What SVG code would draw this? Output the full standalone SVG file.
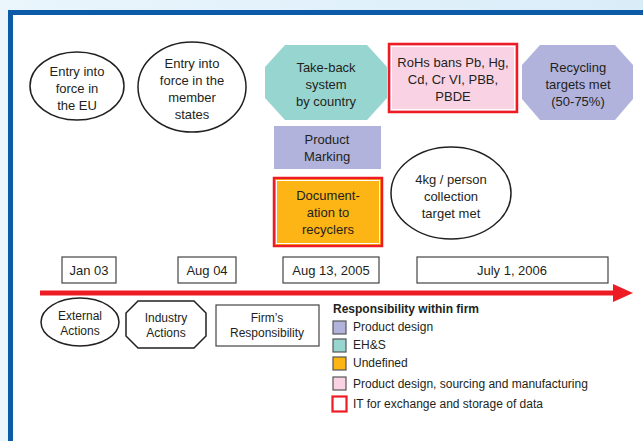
<svg xmlns="http://www.w3.org/2000/svg" width="643" height="441" viewBox="0 0 643 441">
<defs>
<linearGradient id="bg" x1="0" y1="0" x2="1" y2="0">
<stop offset="0" stop-color="#eaf5fc"/>
<stop offset="1" stop-color="#d9edf9"/>
</linearGradient>
</defs>
<style>
text{font-family:"Liberation Sans",Arial,sans-serif;font-size:13px;fill:#231f20;text-anchor:middle}
.ol{fill:#fff;stroke:#231f20;stroke-width:1.5}
.box{fill:#fff;stroke:#444;stroke-width:1.2}
.teal{fill:#97d5d0}
.lav{fill:#b1b3dc}
.pink{fill:#f9d3e4}
.orange{fill:#fcb514}
.red{fill:none;stroke:#ed1c24;stroke-width:2.5}
.inner{fill:none;stroke:#fff;stroke-width:1}
.lg{font-size:12px;text-anchor:start}
.sw{stroke:#555;stroke-width:1.2}
</style>
<rect x="0" y="0" width="643" height="441" fill="url(#bg)"/>
<rect x="10.5" y="12.5" width="700" height="500" fill="#fff" stroke="#0b5ba8" stroke-width="5"/>

<g id="connectors">
<line x1="40" y1="293" x2="616" y2="293" stroke="#ed1c24" stroke-width="5"/>
<polygon points="613,284 633,293 613,302" fill="#ed1c24"/>
</g>

<g id="entry-eu">
<ellipse class="ol" cx="77" cy="86" rx="47" ry="34"/>
<text x="77" y="76">Entry into</text>
<text x="77" y="93">force in</text>
<text x="77" y="110">the EU</text>
</g>
<g id="entry-member">
<ellipse class="ol" cx="192" cy="87" rx="54" ry="45"/>
<text x="192" y="68">Entry into</text>
<text x="192" y="85">force in the</text>
<text x="192" y="102">member</text>
<text x="192" y="119">states</text>
</g>
<g id="take-back">
<polygon class="teal" points="285,45 367,45 387,67 387,98 367,120 285,120 265,98 265,67"/>
<text x="326" y="72">Take-back</text>
<text x="326" y="89">system</text>
<text x="326" y="106">by country</text>
</g>
<g id="rohs">
<rect class="pink" x="389" y="44" width="128" height="68"/>
<rect class="red" x="389" y="44" width="128" height="68"/>
<rect class="inner" x="391.5" y="46.5" width="123" height="63"/>
<text x="453" y="67">RoHs bans Pb, Hg,</text>
<text x="453" y="84">Cd, Cr VI, PBB,</text>
<text x="453" y="101">PBDE</text>
</g>
<g id="recycling">
<polygon class="lav" points="540,45 615,45 633,65 633,99 615,120 540,120 522,99 522,65"/>
<text x="578" y="72">Recycling</text>
<text x="578" y="89">targets met</text>
<text x="578" y="106">(50-75%)</text>
</g>
<g id="product-marking">
<rect class="lav" x="274" y="126" width="107" height="43"/>
<text x="327" y="144">Product</text>
<text x="327" y="161">Marking</text>
</g>
<g id="documentation">
<rect class="orange" x="274" y="178" width="108" height="68"/>
<rect class="red" x="274" y="178" width="108" height="68"/>
<rect class="inner" x="276.5" y="180.5" width="103" height="63"/>
<text x="328" y="200">Document-</text>
<text x="328" y="217">ation to</text>
<text x="328" y="234">recyclers</text>
</g>
<g id="collection">
<ellipse class="ol" cx="451" cy="193" rx="60" ry="46"/>
<text x="451" y="184">4kg / person</text>
<text x="451" y="201">collection</text>
<text x="451" y="218">target met</text>
</g>

<g id="date-jan03">
<rect class="box" x="62" y="257" width="54" height="26"/>
<text x="89" y="275">Jan 03</text>
</g>
<g id="date-aug04">
<rect class="box" x="178" y="257" width="58" height="26"/>
<text x="207" y="275">Aug 04</text>
</g>
<g id="date-aug2005">
<rect class="box" x="283" y="257" width="96" height="26"/>
<text x="331" y="275">Aug 13, 2005</text>
</g>
<g id="date-jul2006">
<rect class="box" x="417" y="257" width="191" height="26"/>
<text x="512" y="275">July 1, 2006</text>
</g>

<g id="legend-external">
<ellipse class="ol" cx="80" cy="322" rx="39" ry="24"/>
<text x="80" y="320" style="font-size:12px">External</text>
<text x="80" y="335" style="font-size:12px">Actions</text>
</g>
<g id="legend-industry">
<polygon class="ol" points="138,301 194,301 206,313 206,336 194,348 138,348 126,336 126,313"/>
<text x="166" y="322" style="font-size:12px">Industry</text>
<text x="166" y="337" style="font-size:12px">Actions</text>
</g>
<g id="legend-firm">
<rect class="box" x="216" y="305" width="103" height="41"/>
<text x="267" y="322" style="font-size:12px">Firm’s</text>
<text x="267" y="337" style="font-size:12px">Responsibility</text>
</g>

<g id="legend-responsibility">
<text class="lg" x="333" y="313" style="font-weight:bold">Responsibility within firm</text>
<rect class="lav sw" x="333" y="321" width="13" height="13"/>
<text class="lg" x="353" y="331">Product design</text>
<rect class="teal sw" x="333" y="339" width="13" height="13"/>
<text class="lg" x="353" y="349">EH&amp;S</text>
<rect class="orange sw" x="333" y="357" width="13" height="13"/>
<text class="lg" x="353" y="367">Undefined</text>
<rect class="pink sw" x="333" y="377" width="13" height="13"/>
<text class="lg" x="353" y="388">Product design, sourcing and manufacturing</text>
<rect x="332.5" y="396.5" width="14" height="15" fill="#fff" stroke="#ed1c24" stroke-width="2.2"/>
<text class="lg" x="353" y="408">IT for exchange and storage of data</text>
</g>
</svg>
